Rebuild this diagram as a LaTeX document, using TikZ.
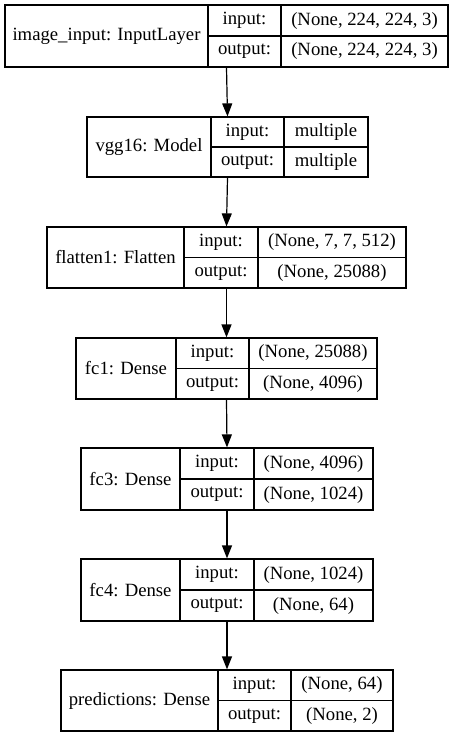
\documentclass[tikz,border=0pt]{standalone}
\usepackage{fontspec}
\setmainfont{Liberation Serif}
\usetikzlibrary{arrows.meta,fit}

\begin{document}
\begin{tikzpicture}[
  x=1pt, y=-1pt,
  cell/.style={draw, line width=1.2pt, inner sep=0pt},
  txt/.style={font=\fontsize{18.7}{22}\selectfont, inner sep=0pt},
  arr/.style={-{Triangle[length=13pt, width=10pt]}, line width=1.2pt}
]
\useasboundingbox (0,0) rectangle (453,737);
% one row per layer: name / x edges / top, bottom / title / shapes
\foreach \n/\xa/\xb/\xc/\xd/\ya/\yb/\t/\i/\o in {
  img/5/208/281/448/5/67/{image\_input: InputLayer}/{(None, 224, 224, 3)}/{(None, 224, 224, 3)},
  vgg/87/211/284/368/117/177/{vgg16: Model}/{multiple}/{multiple},
  flat/47/184/258/406/227/288/{flatten1: Flatten}/{(None, 7, 7, 512)}/{(None, 25088)},
  fca/76/176/249/377/338/399/{fc1: Dense}/{(None, 25088)}/{(None, 4096)},
  fcc/81/180/254/373/448/510/{fc3: Dense}/{(None, 4096)}/{(None, 1024)},
  fcd/81/180/254/373/559/621/{fc4: Dense}/{(None, 1024)}/{(None, 64)},
  pred/61/218/291/393/670/731/{predictions: Dense}/{(None, 64)}/{(None, 2)}} {
  \pgfmathsetmacro\ym{(\ya+\yb)/2}
  \node[cell, fit={(\xa,\ya) (\xd,\yb)}] (\n) {};
  \node[cell, fit={(\xa,\ya) (\xb,\yb)}, label={[txt]center:\t}] (\n-t) {};
  \node[cell, fit={(\xb,\ya) (\xc,\ym)}, label={[txt]center:input:}] (\n-il) {};
  \node[cell, fit={(\xb,\ym) (\xc,\yb)}, label={[txt]center:output:}] (\n-ol) {};
  \node[cell, fit={(\xc,\ya) (\xd,\ym)}, label={[txt]center:\i}] (\n-iv) {};
  \node[cell, fit={(\xc,\ym) (\xd,\yb)}, label={[txt]center:\o}] (\n-ov) {};
}
\foreach \a/\b in {img/vgg, vgg/flat, flat/fca, fca/fcc, fcc/fcd, fcd/pred}
  \draw[arr] (\a.south) -- (\b.north);
\end{tikzpicture}
\end{document}
